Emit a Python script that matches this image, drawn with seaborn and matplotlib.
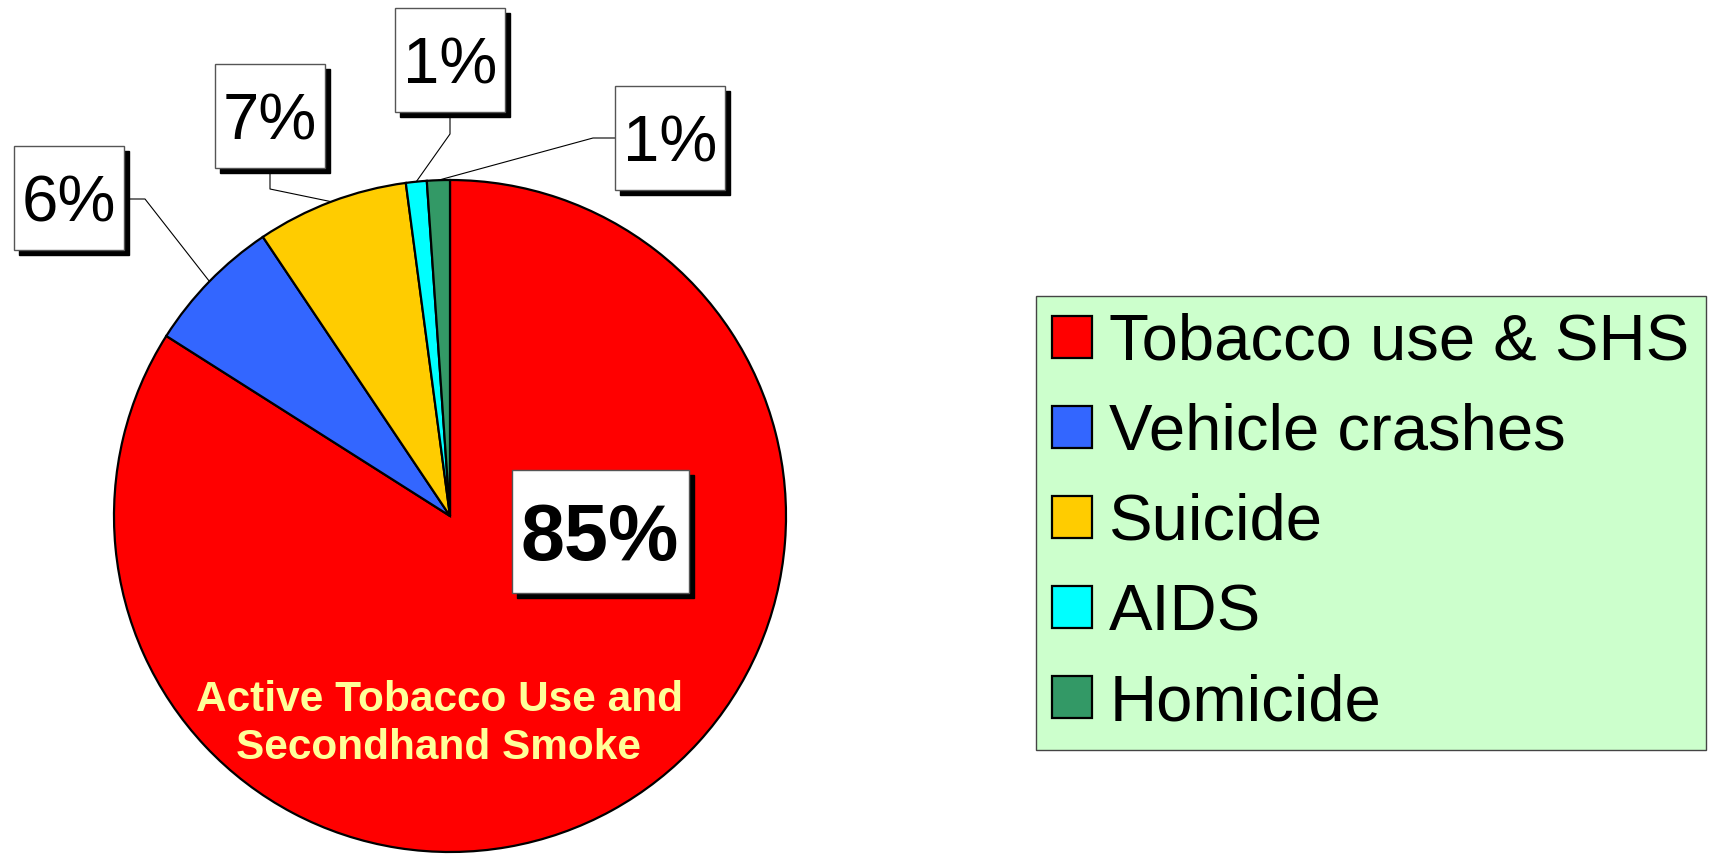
import matplotlib
matplotlib.use("Agg")
import matplotlib.pyplot as plt
import matplotlib.transforms as mtransforms
from matplotlib.patches import Rectangle
import seaborn as sns
import numpy as np

# data
causes = ['Tobacco use & SHS', 'Vehicle crashes', 'Suicide', 'AIDS', 'Homicide']
shares = [84.0, 6.6, 7.3, 1.0, 1.1]
pct_labels = ['85%', '6%', '7%', '1%', '1%']
colors = ['#FF0000', '#3366FF', '#FFCC00', '#00FFFF', '#339966']
inner_text = 'Active Tobacco Use and\nSecondhand Smoke'

sns.set_style("white")
plt.rcParams['font.family'] = ['Liberation Sans', 'DejaVu Sans']
plt.rcParams['text.color'] = 'black'

fig = plt.figure(figsize=(17.22, 8.56), dpi=100)
# pie centre at (450, 516) px, radius 336 px
ax = fig.add_axes([114 / 1722, 4 / 856, 672 / 1722, 672 / 856])
ax.axis('off')

wedges, _ = ax.pie(
    shares,
    colors=colors,
    startangle=90,
    counterclock=False,
    radius=1,
    wedgeprops={'edgecolor': 'black', 'linewidth': 1.6},
)
ax.set_xlim(-1, 1)
ax.set_ylim(-1, 1)
ax.set_aspect('equal')


def px(x, y):
    # pixel position -> data coords of the pie axes
    return (x - 450) / 336, (516 - y) / 336


def boxed(x, y, s, size, box_w, box_h, weight='normal'):
    # box_w / box_h in pixels, box centred on the text
    for dx, dy, fc, ec, z in [(5, -5, 'black', 'black', 4), (0, 0, 'white', '#555555', 5)]:
        tr = mtransforms.Affine2D().translate(dx, dy) + \
            mtransforms.ScaledTranslation(x, y, ax.transData)
        ax.add_patch(Rectangle((-box_w / 2, -box_h / 2), box_w, box_h,
                               transform=tr, fc=fc, ec=ec, lw=1, zorder=z,
                               clip_on=False))
    ax.text(x, y, s, fontsize=size, fontweight=weight, color='black',
            ha='center', va='center_baseline', zorder=6)


# label layout: (centre px, box size px, box anchor px, elbow px)
layout = [
    ((600, 531), (177, 123), None, None),
    ((69, 198), (110, 104), (124, 199), (145, 199)),
    ((270, 116), (110, 104), (270, 168), (270, 189)),
    ((450, 60), (110, 104), (450, 112), (450, 134)),
    ((670, 138), (110, 104), (615, 138), (593, 138)),
]

for w, lab, (c, size_px, anchor, elbow) in zip(wedges, pct_labels, layout):
    if anchor is None:
        boxed(*px(*c), lab, 57, *size_px, weight='bold')
        continue
    mid = np.deg2rad((w.theta1 + w.theta2) / 2)
    ex, ey = np.cos(mid), np.sin(mid)
    ax_, ay_ = px(*anchor)
    bx_, by_ = px(*elbow)
    ax.plot([ax_, bx_, ex], [ay_, by_, ey], color='black', lw=0.8, zorder=3,
            clip_on=False)
    boxed(*px(*c), lab, 47, *size_px)

tx, ty = px(439, 724)
ax.text(tx, ty, inner_text, fontsize=30.5, fontweight='bold', color='#FFFF99',
        ha='center', va='center', linespacing=1.25, zorder=5)

leg = fig.legend(
    wedges, causes,
    loc='center', bbox_to_anchor=(1371 / 1722, 1 - 523 / 856),
    fontsize=47, frameon=True, fancybox=False,
    handlelength=0.6, handleheight=0.6, handletextpad=0.27,
    borderpad=0.26, labelspacing=0.46,
)
frame = leg.get_frame()
frame.set_facecolor('#CCFFCC')
frame.set_edgecolor('#444444')
frame.set_linewidth(1)
frame.set_alpha(1)

fig.savefig('out.png', dpi=100, facecolor='white')
